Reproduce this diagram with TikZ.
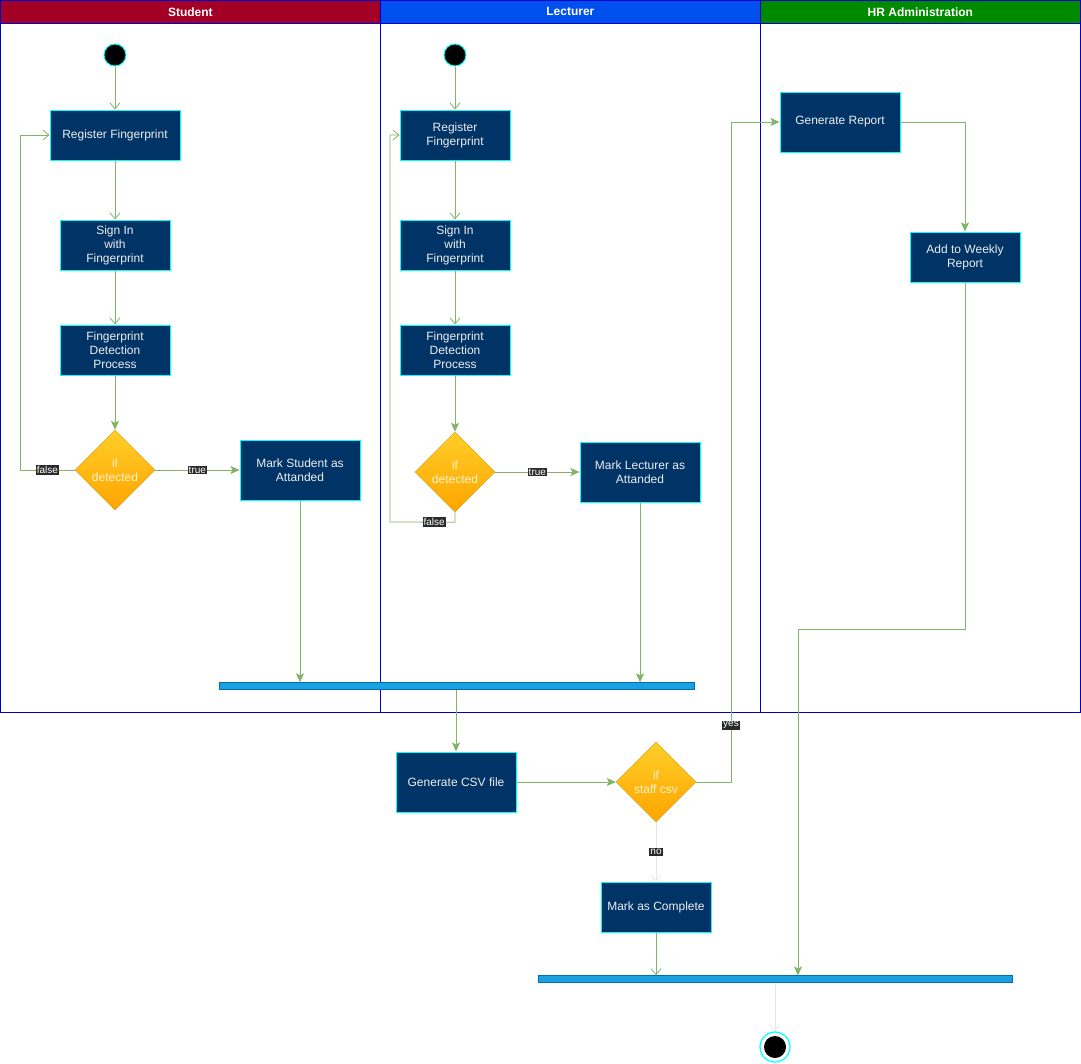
\documentclass[tikz,border=0pt]{standalone}
\usepackage{fontspec}
\setmainfont{Liberation Sans}
\usepackage{tikz}
\usetikzlibrary{
	positioning,
	shapes.geometric,
	arrows.meta
}
\definecolor{boxnavy}{HTML}{003366}
\definecolor{boxedge}{HTML}{00FFFF}
\definecolor{boxtext}{HTML}{EEEEEE}
\definecolor{flowgreen}{HTML}{82B366}
\definecolor{flowgrey}{HTML}{E6E6E6}
\definecolor{lanedge}{HTML}{0000CC}
\definecolor{hdrstudent}{HTML}{A20025}
\definecolor{hdrlecturer}{HTML}{0050EF}
\definecolor{hdrhr}{HTML}{008A00}
\definecolor{barfill}{HTML}{1BA1E2}
\definecolor{baredge}{HTML}{006EAF}
\definecolor{decedge}{HTML}{D79B00}
\definecolor{dectop}{HTML}{FFCD28}
\definecolor{decbottom}{HTML}{FFA500}
\definecolor{dectext}{HTML}{FFF2CC}
\definecolor{lblback}{HTML}{2A2A2A}

\begin{document}
\begin{tikzpicture}[
	x=1pt, y=-1pt,
	action/.style={rectangle, draw=boxedge, fill=boxnavy, text=boxtext, line width=1pt,
		align=center, inner sep=2pt, font=\fontsize{12}{14}\selectfont},
	decision/.style={diamond, draw=decedge, top color=dectop, bottom color=decbottom,
		text=dectext, minimum width=80, minimum height=80, inner sep=0pt,
		align=center, font=\fontsize{12}{14.5}\selectfont},
	startdot/.style={circle, fill=black, draw=boxedge, line width=1pt, minimum size=22, inner sep=0pt},
	endring/.style={circle, fill=white, draw=boxedge, line width=1.2pt, minimum size=30, inner sep=0pt},
	syncbar/.style={rectangle, draw=baredge, fill=barfill, minimum height=7, inner sep=0pt},
	header/.style={draw=lanedge, line width=0.8pt, text=white, anchor=north west, minimum height=23,
		inner sep=0pt, font=\bfseries\fontsize{12}{14}\selectfont},
	lane/.style={draw=lanedge, line width=0.8pt},
	lbl/.style={fill=lblback, text=white, inner sep=1pt, font=\fontsize{10}{11}\selectfont},
	flow/.style={draw=flowgreen, line width=0.8pt, -{Straight Barb[length=6pt,width=10pt]}},
	flowf/.style={draw=flowgreen, line width=0.8pt, -{Stealth[length=9pt,width=8pt,inset=2pt]}},
	flowgrey/.style={draw=flowgrey, line width=0.8pt, -{Straight Barb[length=6pt,width=10pt]}}
]
	\useasboundingbox (0,0) rectangle (1081,1063);

	% swimlanes
	\draw[lane] (0,0) rectangle (380,712);
	\draw[lane] (380,0) rectangle (760,712);
	\draw[lane] (760,0) rectangle (1080,712);
	\node[header, fill=hdrstudent, minimum width=380]  (hstudent)  at (0,0)   {Student};
	\node[header, fill=hdrlecturer, minimum width=380] (hlecturer) at (380,0) {Lecturer};
	\node[header, fill=hdrhr, minimum width=320]       (hhr)       at (760,0) {HR Administration};

	% student lane
	\node[startdot] (start1) at (115,55) {};
	\node[action, minimum width=130, minimum height=50] (reg1)  at (115,135) {Register Fingerprint};
	\node[action, minimum width=110, minimum height=50] (sign1) at (115,245) {Sign In\\with\\Fingerprint};
	\node[action, minimum width=110, minimum height=50] (det1)  at (115,350) {Fingerprint\\Detection\\Process};
	\node[decision] (dec1) at (115,470) {if\\detected};
	\node[action, minimum width=120, minimum height=60] (mark1) at (300,470) {Mark Student as\\Attanded};

	% lecturer lane
	\node[startdot] (start2) at (455,55) {};
	\node[action, minimum width=110, minimum height=50] (reg2)  at (455,135) {Register\\Fingerprint};
	\node[action, minimum width=110, minimum height=50] (sign2) at (455,245) {Sign In\\with\\Fingerprint};
	\node[action, minimum width=110, minimum height=50] (det2)  at (455,350) {Fingerprint\\Detection\\Process};
	\node[decision] (dec2) at (455,472) {if\\detected};
	\node[action, minimum width=120, minimum height=60] (mark2) at (640,472) {Mark Lecturer as\\Attanded};

	% hr lane
	\node[action, minimum width=120, minimum height=60] (report) at (840,122) {Generate Report};
	\node[action, minimum width=110, minimum height=50] (weekly) at (965,257) {Add to Weekly\\Report};

	% below the lanes
	\node[syncbar, minimum width=475] (bar1) at (456.5,686) {};
	\node[action, minimum width=120, minimum height=60] (csv) at (456,782) {Generate CSV file};
	\node[decision] (dec3) at (656,782) {if\\staff csv};
	\node[action, minimum width=110, minimum height=50] (done) at (656,907) {Mark as Complete};
	\node[syncbar, minimum width=474] (bar2) at (775,979) {};
	\node[endring] (stop) at (775,1047) {};
	\node[startdot, draw=none] (stopdot) at (stop) {};

	% flows
	\draw[flow] (start1) -- (reg1);
	\draw[flow] (reg1) -- (sign1);
	\draw[flow] (sign1) -- (det1);
	\draw[flowf] (det1) -- (dec1);
	\draw[flowf] (dec1) -- node[lbl]{true} (mark1);
	\draw[flow] (dec1.west) -- node[lbl]{false} (20,470) |- (reg1.west);
	\draw[flowf] (mark1) -- (mark1 |- bar1.north);

	\draw[flow] (start2) -- (reg2);
	\draw[flow] (reg2) -- (sign2);
	\draw[flow] (sign2) -- (det2);
	\draw[flowf] (det2) -- (dec2);
	\draw[flowf] (dec2) -- node[lbl]{true} (mark2);
	\draw[flow] (dec2.south) -- ++(0,10) -- node[lbl,pos=0.32]{false} (390,522) |- (reg2.west);
	\draw[flowf] (mark2) -- (mark2 |- bar1.north);

	\draw[flowf] (bar1.south -| csv) -- (csv);
	\draw[flowf] (csv) -- (dec3);
	\draw[flowf] (dec3.east) -- (731,782) -- node[lbl,pos=0.086]{yes} (731,122) -- (report.west);
	\draw[flowf] (report.east) -| (weekly.north);
	\draw[flowf] (weekly.south) -- (965,629) -- (798,629) -- (798,975.5);
	\draw[flowgrey] (dec3.south) -- node[lbl]{no} (done);
	\draw[flow] (done) -- (done |- bar2.north);
	\draw[flowgrey] (bar2.south -| stop) -- (stop);
\end{tikzpicture}
\end{document}
